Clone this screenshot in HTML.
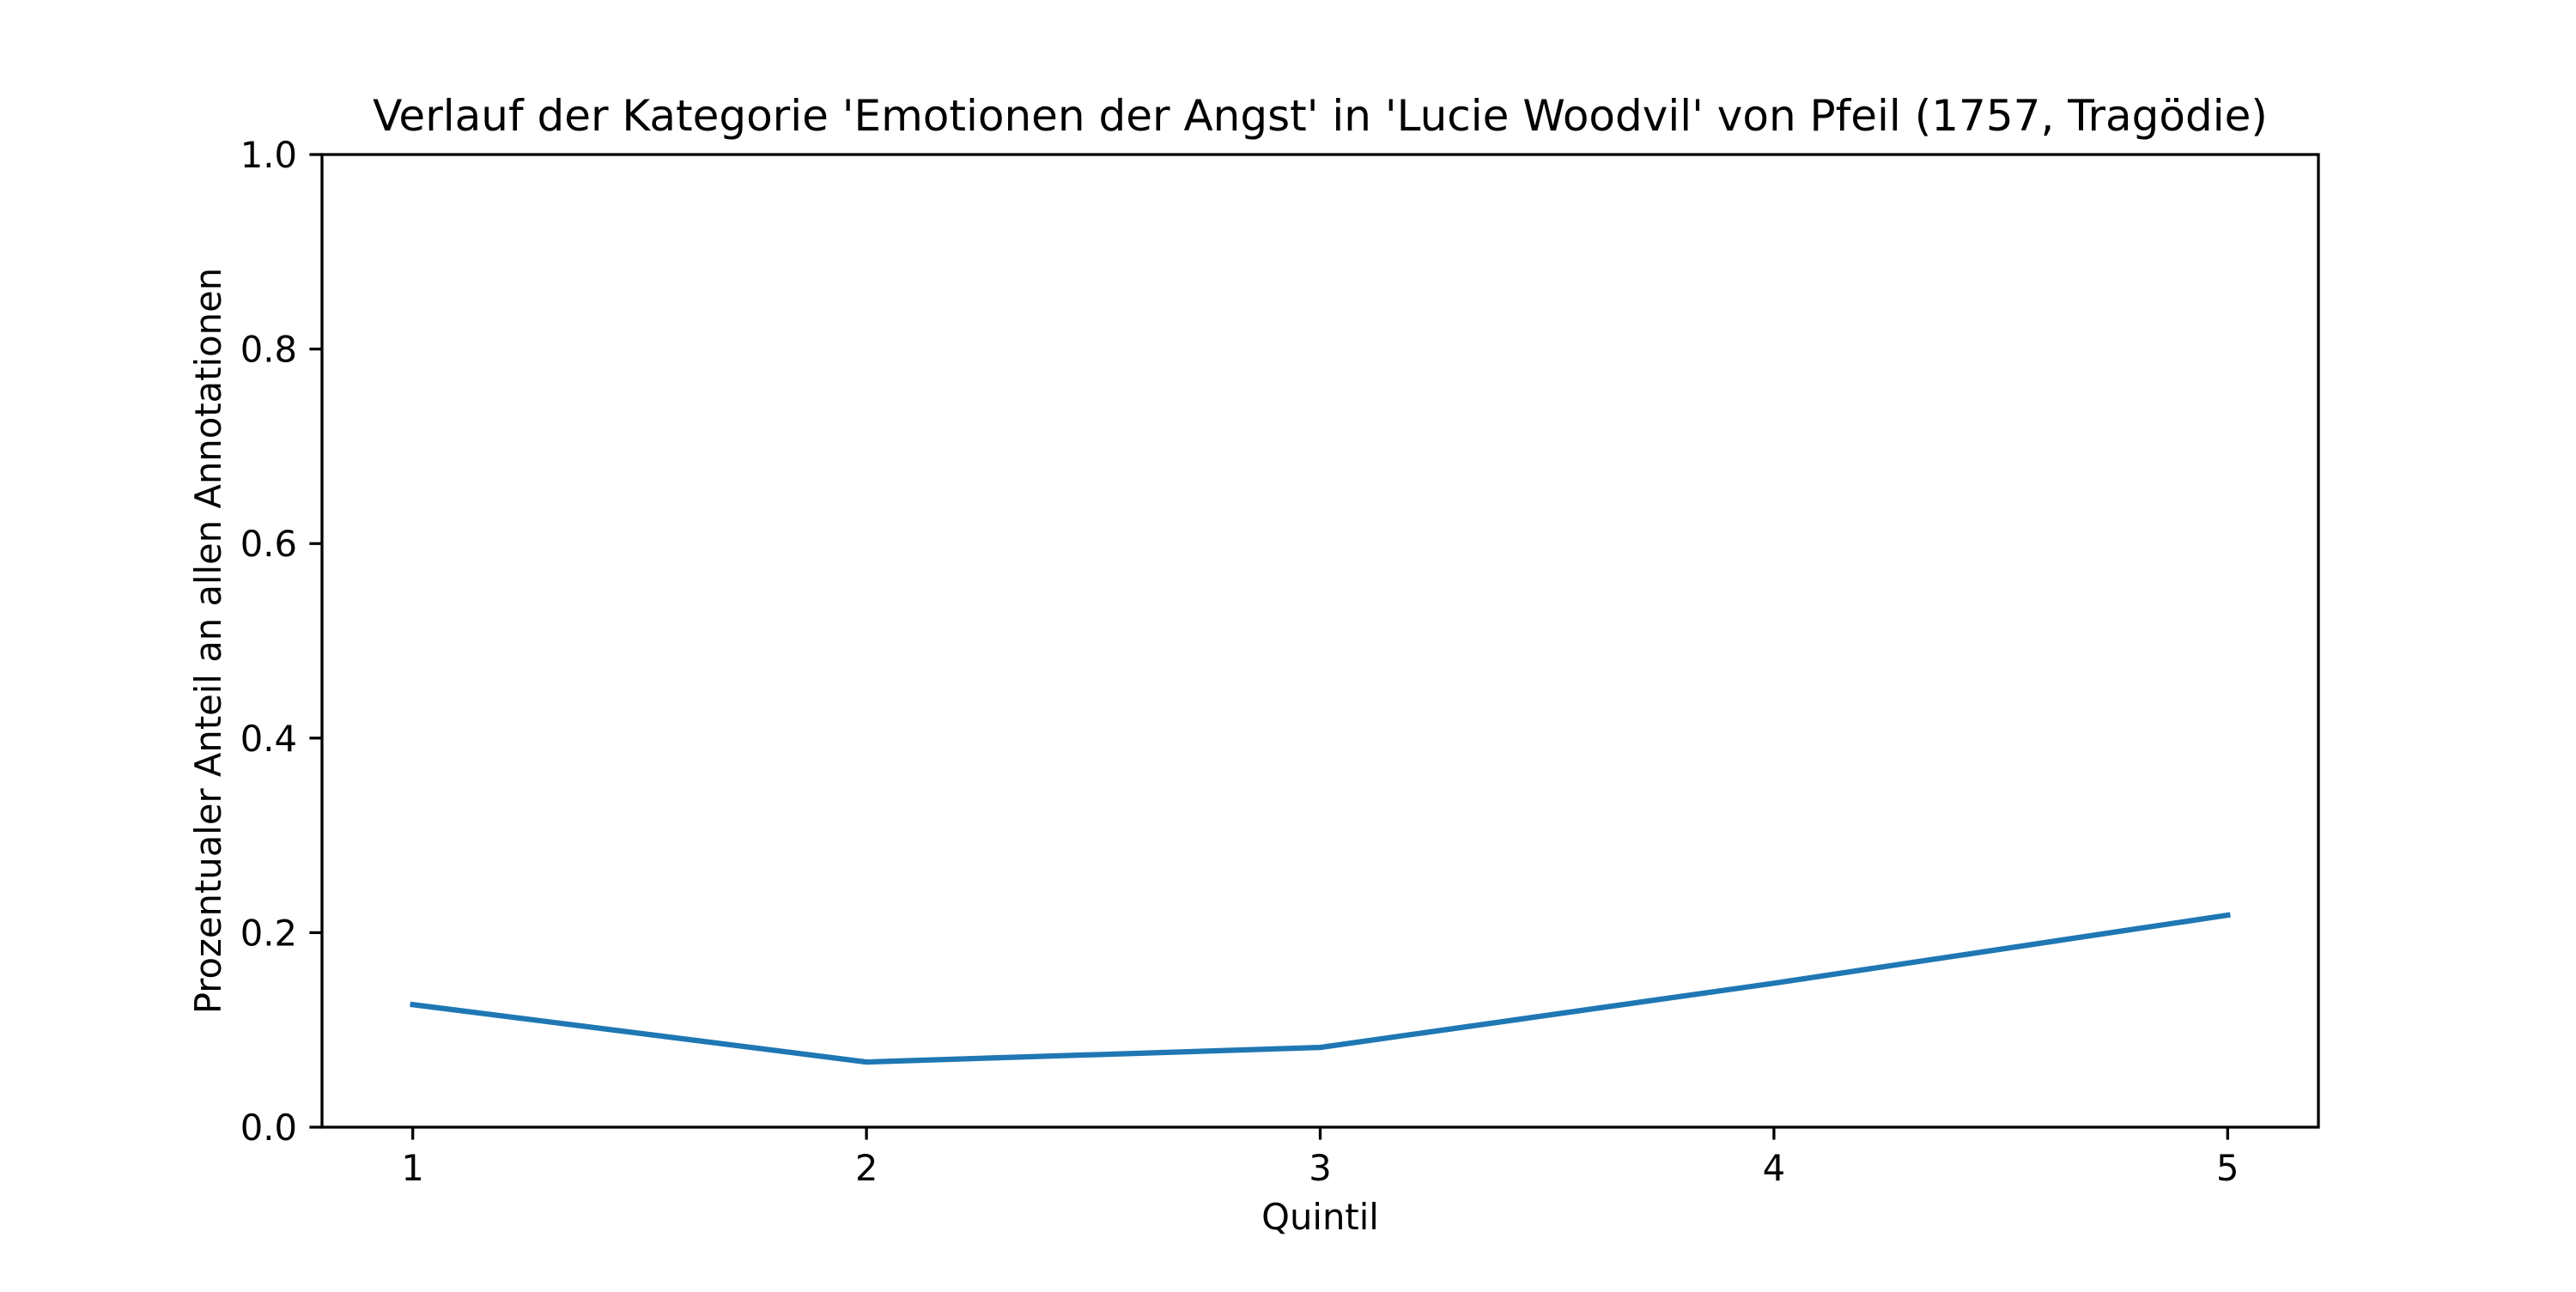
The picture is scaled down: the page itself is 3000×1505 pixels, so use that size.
<!DOCTYPE html>
<html><head><meta charset="utf-8"><style>
html,body{margin:0;padding:0;background:#fff}
svg text{font-family:"DejaVu Sans","Liberation Sans",sans-serif;fill:#000}
</style></head><body>
<svg id="chart" width="3000" height="1500" viewBox="0 0 3000 1500" xmlns="http://www.w3.org/2000/svg">
<rect width="3000" height="1500" fill="#fff"/>
<text x="1537.5" y="152" font-size="50" text-anchor="middle">Verlauf der Kategorie 'Emotionen der Angst' in 'Lucie Woodvil' von Pfeil (1757, Tragödie)</text>
<g id="xticks"></g><g id="yticks"></g>
<path id="series" fill="none" stroke="#1f77b4" stroke-width="6.25" stroke-linejoin="round" stroke-linecap="square"/>
<rect x="375" y="180" width="2325" height="1133" fill="none" stroke="#000" stroke-width="3.3"/>
<text x="1537.5" y="1432" font-size="41.7" text-anchor="middle">Quintil</text>
<text transform="translate(257,746.5) rotate(-90)" font-size="41.7" text-anchor="middle">Prozentualer Anteil an allen Annotationen</text>
</svg>
<script>
const categories=[1,2,3,4,5];
const values=[0.126,0.067,0.082,0.148,0.218];
const yTicks=[0,0.2,0.4,0.6,0.8,1.0];
const yTickLabels=["0.0","0.2","0.4","0.6","0.8","1.0"];
const L=375,R=2700,T=180,B=1313,NS="http://www.w3.org/2000/svg";
const x=v=>L+(v-0.8)/(4.4)*(R-L);
const y=v=>B-v*(B-T);
const xg=document.getElementById('xticks'),yg=document.getElementById('yticks');
categories.forEach(c=>{
  const t=document.createElementNS(NS,'line');
  t.setAttribute('x1',x(c));t.setAttribute('x2',x(c));t.setAttribute('y1',B);t.setAttribute('y2',B+14.6);
  t.setAttribute('stroke','#000');t.setAttribute('stroke-width','3.3');
  
  
  xg.appendChild(t);
  const l=document.createElementNS(NS,'text');
  l.setAttribute('x',x(c));l.setAttribute('y',B+62);l.setAttribute('font-size','41.7');l.setAttribute('text-anchor','middle');
  l.textContent=c;
  
  
  xg.appendChild(l);
});
yTicks.forEach((v,i)=>{
  const t=document.createElementNS(NS,'line');
  t.setAttribute('x1',L-14.6);t.setAttribute('x2',L);t.setAttribute('y1',y(v));t.setAttribute('y2',y(v));
  t.setAttribute('stroke','#000');t.setAttribute('stroke-width','3.3');
  
  
  yg.appendChild(t);
  const l=document.createElementNS(NS,'text');
  l.setAttribute('x',L-29);l.setAttribute('y',y(v)+15);l.setAttribute('font-size','41.7');l.setAttribute('text-anchor','end');
  l.textContent=yTickLabels[i];
  
  
  yg.appendChild(l);
});
document.getElementById('series').setAttribute('d',categories.map((c,i)=>(i?'L':'M')+x(c)+' '+y(values[i])).join(' '));
</script>
</body></html>
